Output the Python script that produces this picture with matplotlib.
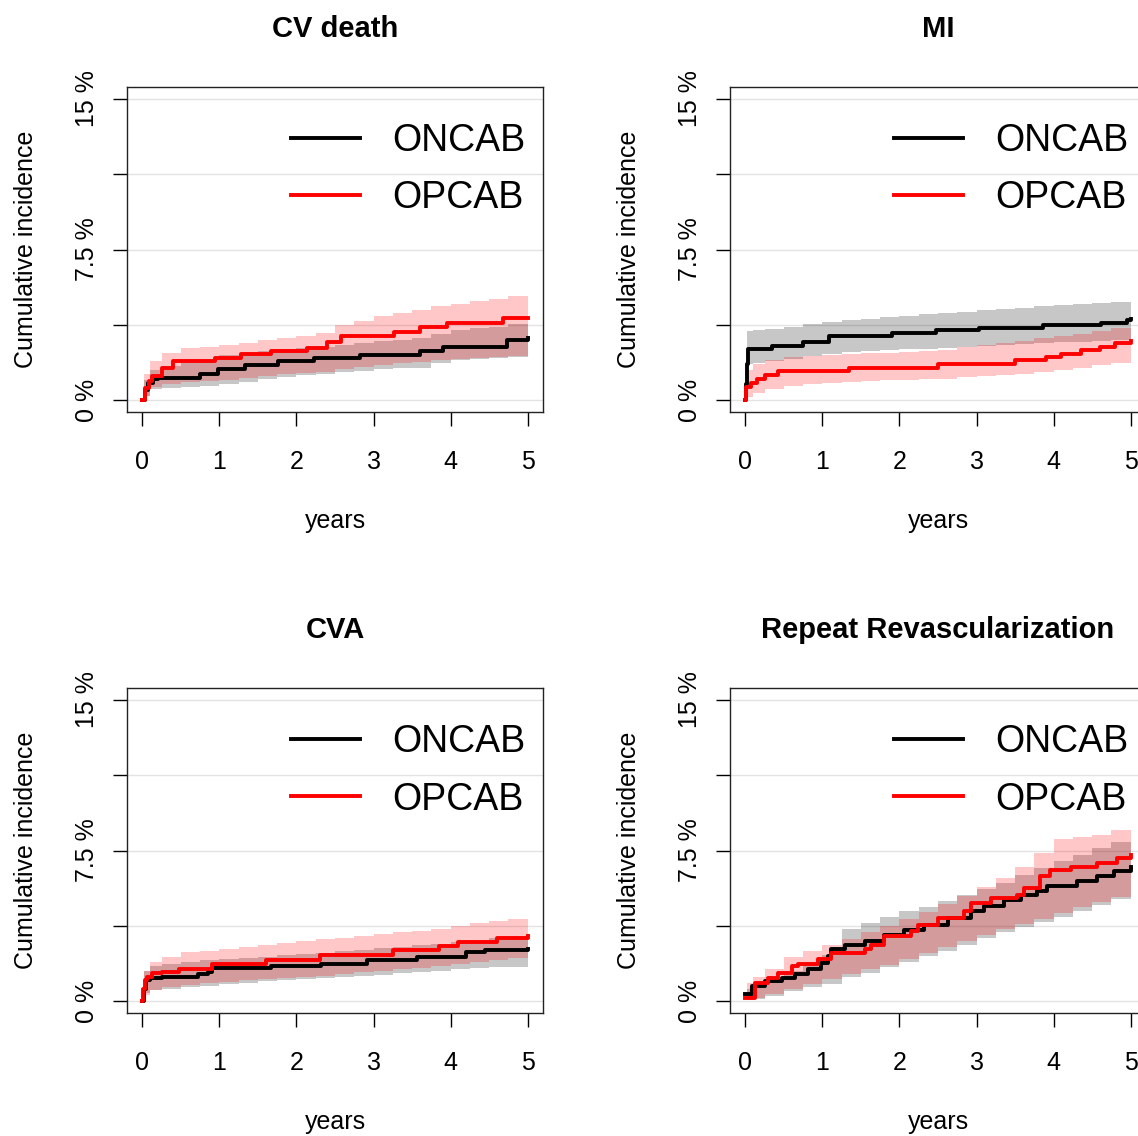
import matplotlib.pyplot as plt

plt.rcParams['font.family'] = ['Liberation Sans', 'DejaVu Sans']

band_t = [0, 0.02, 0.1, 0.25, 0.5, 0.75, 1.0, 1.25, 1.5, 1.75, 2.0, 2.25, 2.5, 2.75, 3.0,
          3.25, 3.5, 3.75, 4.0, 4.25, 4.5, 4.75, 5.0]

# ---- CV death ----
cv_on_t = [0, 0.03, 0.07, 0.14, 0.2, 0.75, 0.98, 1.33, 1.76, 2.23, 2.83, 3.6, 3.9, 4.73, 5.0]
cv_on_y = [0, 0.5, 0.85, 1.05, 1.1, 1.27, 1.52, 1.76, 1.93, 2.09, 2.25, 2.42, 2.66, 2.99, 3.1]
cv_on_lo = [0, 0.2, 0.55, 0.6, 0.65, 0.72, 0.8, 0.92, 1.05, 1.15, 1.25, 1.3, 1.38, 1.45, 1.52,
            1.57, 1.6, 1.85, 2.0, 2.05, 2.08, 2.12, 2.15]
cv_on_hi = [0, 1.0, 1.5, 1.7, 1.85, 2.0, 2.25, 2.35, 2.45, 2.5, 2.6, 2.65, 2.75, 2.85, 2.95,
            3.0, 3.1, 3.3, 3.5, 3.6, 3.65, 3.8, 3.85]

cv_op_t = [0, 0.03, 0.08, 0.12, 0.25, 0.4, 0.94, 1.28, 1.67, 2.14, 2.4, 2.58, 3.26, 3.6, 3.95, 4.68, 5.0]
cv_op_y = [0, 0.6, 0.95, 1.2, 1.6, 1.92, 2.1, 2.27, 2.44, 2.6, 2.9, 3.17, 3.4, 3.65, 3.85, 4.07, 4.1]
cv_op_lo = [0, 0.2, 0.65, 0.8, 0.92, 0.97, 1.0, 1.1, 1.2, 1.28, 1.35, 1.4, 1.55, 1.65, 1.75,
            1.82, 1.9, 1.97, 2.02, 2.08, 2.15, 2.2, 2.25]
cv_op_hi = [0, 1.3, 1.95, 2.35, 2.6, 2.65, 2.75, 2.85, 3.0, 3.1, 3.2, 3.35, 3.75, 3.95, 4.2,
            4.35, 4.5, 4.7, 4.8, 4.95, 5.05, 5.2, 5.2]

# ---- MI ----
mi_on_t = [0, 0.005, 0.015, 0.03, 0.35, 0.75, 1.08, 1.9, 2.48, 3.03, 3.86, 4.62, 4.95, 5.0]
mi_on_y = [0, 0.8, 1.8, 2.55, 2.7, 2.9, 3.2, 3.35, 3.5, 3.6, 3.75, 3.85, 4.0, 4.05]
mi_on_lo = [0, 1.8, 1.85, 1.93, 2.05, 2.2, 2.3, 2.4, 2.45, 2.5, 2.52, 2.55, 2.58, 2.62, 2.68,
            2.72, 2.78, 2.83, 2.87, 2.9, 2.93, 2.97, 3.0]
mi_on_hi = [0, 3.45, 3.5, 3.55, 3.65, 3.8, 3.9, 4.0, 4.05, 4.15, 4.2, 4.28, 4.35, 4.4, 4.48,
            4.52, 4.6, 4.67, 4.72, 4.77, 4.82, 4.9, 5.2]

mi_op_t = [0, 0.005, 0.07, 0.15, 0.25, 0.42, 1.35, 2.5, 3.5, 3.9, 4.1, 4.35, 4.6, 4.8, 5.0]
mi_op_y = [0, 0.65, 0.85, 1.05, 1.25, 1.45, 1.6, 1.8, 1.97, 2.15, 2.3, 2.5, 2.65, 2.85, 2.95]
mi_op_lo = [0, 0.15, 0.35, 0.55, 0.7, 0.8, 0.87, 0.9, 0.95, 0.98, 1.0, 1.03, 1.06, 1.12, 1.18,
            1.24, 1.3, 1.4, 1.5, 1.6, 1.72, 1.85, 2.0]
mi_op_hi = [0, 1.5, 1.8, 2.0, 2.15, 2.2, 2.25, 2.3, 2.32, 2.35, 2.38, 2.42, 2.5, 2.65, 2.75,
            2.85, 2.95, 3.1, 3.2, 3.3, 3.45, 3.6, 3.85]

# ---- CVA ----
cva_on_t = [0, 0.02, 0.05, 0.1, 0.25, 0.72, 0.85, 0.9, 1.67, 2.32, 2.92, 3.57, 4.2, 4.45, 5.0]
cva_on_y = [0, 0.6, 1.04, 1.12, 1.2, 1.33, 1.45, 1.64, 1.73, 1.86, 2.02, 2.19, 2.43, 2.55, 2.58]
cva_on_lo = [0, 0.4, 0.54, 0.6, 0.68, 0.75, 0.85, 0.92, 0.98, 1.03, 1.1, 1.15, 1.2, 1.26, 1.3,
             1.37, 1.45, 1.5, 1.57, 1.63, 1.67, 1.7, 1.73]
cva_on_hi = [0, 1.5, 1.75, 1.85, 1.95, 2.02, 2.1, 2.15, 2.2, 2.27, 2.33, 2.4, 2.48, 2.56, 2.63,
             2.7, 2.78, 2.85, 2.95, 3.05, 3.15, 3.25, 3.35]

cva_op_t = [0, 0.01, 0.03, 0.06, 0.12, 0.25, 0.47, 0.9, 1.6, 2.3, 3.25, 3.85, 4.1, 4.6, 5.0]
cva_op_y = [0, 0.6, 1.04, 1.2, 1.37, 1.45, 1.6, 1.85, 2.02, 2.3, 2.55, 2.75, 2.95, 3.15, 3.25]
cva_op_lo = [0, 0.3, 0.54, 0.7, 0.8, 0.9, 0.97, 1.03, 1.08, 1.12, 1.18, 1.25, 1.33, 1.42, 1.5,
             1.58, 1.65, 1.72, 1.85, 1.95, 2.05, 2.13, 2.19]
cva_op_hi = [0, 1.5, 1.94, 2.2, 2.43, 2.5, 2.6, 2.7, 2.8, 2.88, 2.98, 3.08, 3.15, 3.25, 3.35,
             3.42, 3.5, 3.58, 3.75, 3.9, 4.0, 4.1, 4.24]

# ---- Repeat Revascularization ----
rr_on_t = [0, 0.08, 0.25, 0.47, 0.64, 0.81, 0.98, 1.07, 1.11, 1.29, 1.55, 1.8, 2.06, 2.32, 2.63,
           2.93, 3.1, 3.36, 3.58, 3.79, 3.92, 4.31, 4.57, 4.78, 5.0]
rr_on_y = [0.33, 0.75, 1.0, 1.16, 1.32, 1.57, 1.9, 2.24, 2.57, 2.81, 2.98, 3.31, 3.56, 3.81, 4.14,
           4.47, 4.72, 5.05, 5.3, 5.46, 5.71, 5.96, 6.21, 6.46, 6.7]
rr_on_lo = [0, 0.08, 0.12, 0.25, 0.5, 0.7, 0.85, 1.2, 1.4, 1.7, 1.95, 2.25, 2.5, 2.8, 3.15,
            3.45, 3.7, 3.95, 4.2, 4.5, 4.8, 5.1, 5.3]
rr_on_hi = [0, 0.6, 0.8, 1.1, 1.5, 1.9, 2.3, 3.6, 3.9, 4.2, 4.5, 4.7, 5.0, 5.3, 5.6,
            5.9, 6.3, 6.65, 7.0, 7.3, 7.6, 7.9, 8.1]

rr_op_t = [0, 0.12, 0.29, 0.42, 0.6, 0.68, 0.94, 1.11, 1.55, 1.63, 1.8, 2.15, 2.24, 2.5, 2.84,
           2.93, 3.19, 3.53, 3.62, 3.83, 3.96, 4.22, 4.57, 4.83, 5.0]
rr_op_y = [0.17, 0.91, 1.16, 1.41, 1.74, 1.82, 2.07, 2.4, 2.57, 2.81, 3.23, 3.48, 3.81, 4.14, 4.47,
           4.88, 5.13, 5.3, 5.63, 6.21, 6.54, 6.7, 6.87, 7.12, 7.28]
rr_op_lo = [0, 0.08, 0.15, 0.35, 0.6, 0.85, 1.1, 1.35, 1.6, 1.8, 2.1, 2.4, 2.7, 3.0, 3.3,
            3.6, 3.85, 4.1, 4.4, 4.7, 4.95, 5.2, 5.38]
rr_op_hi = [0, 0.9, 1.2, 1.6, 2.2, 2.5, 2.8, 3.1, 3.45, 3.75, 4.1, 4.45, 4.85, 5.25, 5.7,
            6.15, 6.7, 7.4, 8.05, 8.15, 8.25, 8.5, 8.8]

titles = ['CV death', 'MI', 'CVA', 'Repeat Revascularization']
groups = ['ONCAB', 'OPCAB']
yticks = [0, 3.75, 7.5, 11.25, 15]
ytick_labels = ['0 %', '', '7.5 %', '', '15 %']

panels = [
    ((cv_on_t, cv_on_y, cv_on_lo, cv_on_hi), (cv_op_t, cv_op_y, cv_op_lo, cv_op_hi)),
    ((mi_on_t, mi_on_y, mi_on_lo, mi_on_hi), (mi_op_t, mi_op_y, mi_op_lo, mi_op_hi)),
    ((cva_on_t, cva_on_y, cva_on_lo, cva_on_hi), (cva_op_t, cva_op_y, cva_op_lo, cva_op_hi)),
    ((rr_on_t, rr_on_y, rr_on_lo, rr_on_hi), (rr_op_t, rr_op_y, rr_op_lo, rr_op_hi)),
]

W, H = 1138, 1136
fig = plt.figure(figsize=(W / 100, H / 100), dpi=100)

# box positions in pixels: left, top
boxes = [(127, 87), (730, 87), (127, 688), (730, 688)]
bw, bh = 416, 325
colors = ['black', 'red']

for (bx, by), title, (on, op) in zip(boxes, titles, panels):
    ax = fig.add_axes([bx / W, 1 - (by + bh) / H, bw / W, bh / H])
    ax.set_xlim(-0.2, 5.2)
    ax.set_ylim(-0.6, 15.6)
    for yv in yticks:
        ax.axhline(yv, color='#e3e3e3', lw=1, zorder=0)

    # confidence bands first, then the curves
    for (t, y, lo, hi), c in zip((on, op), colors):
        ax.fill_between(band_t, lo, hi, step='post', color=c, alpha=0.22, lw=0, zorder=1)
    for (t, y, lo, hi), c, g in zip((on, op), colors, groups):
        ax.step(t, y, where='post', color=c, lw=2.8, label=g, zorder=3)

    ax.set_xticks(range(6))
    ax.set_yticks(yticks)
    ax.set_yticklabels(ytick_labels, rotation=90, va='center')
    ax.tick_params(direction='out', length=10, width=1, labelsize=18, pad=10)
    ax.tick_params(axis='x', pad=17)
    for s in ax.spines.values():
        s.set_linewidth(1)
        s.set_color('#222222')

    ax.set_title(title, fontsize=21, fontweight='bold', pad=36)
    ax.set_xlabel('years', fontsize=18)
    ax.set_ylabel('Cumulative incidence', fontsize=18)
    ax.xaxis.set_label_coords(0.5, -0.298)
    ax.yaxis.set_label_coords(-0.215, 0.5)

    ax.legend(loc='upper right', bbox_to_anchor=(0.957, 0.89), frameon=False,
              fontsize=27, handlelength=1.86, handletextpad=0.84, labelspacing=0.58,
              borderpad=0, borderaxespad=0)

fig.savefig('out.png', dpi=100)
